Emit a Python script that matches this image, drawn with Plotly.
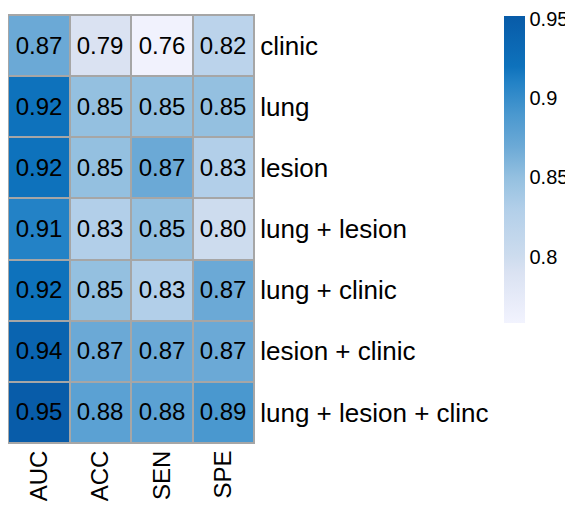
import plotly.graph_objects as go

metrics = ["AUC", "ACC", "SEN", "SPE"]
models = ["clinic", "lung", "lesion", "lung + lesion", "lung + clinic",
          "lesion + clinic", "lung + lesion + clinc"]
auc = [0.87, 0.92, 0.92, 0.91, 0.92, 0.94, 0.95]
acc = [0.79, 0.85, 0.85, 0.83, 0.85, 0.87, 0.88]
sen = [0.76, 0.85, 0.87, 0.85, 0.83, 0.87, 0.88]
spe = [0.82, 0.85, 0.83, 0.80, 0.87, 0.87, 0.89]
cbar_ticks = [0.8, 0.85, 0.9, 0.95]

z = [[auc[i], acc[i], sen[i], spe[i]] for i in range(len(models))]

zmin, zmax = 0.758, 0.952
stops = [(0.758, "#F2F3FE"), (0.79, "#DAE2F2"), (0.80, "#CDDCEE"), (0.83, "#B2CFE9"),
         (0.85, "#94C0E0"), (0.87, "#6BA9D6"), (0.89, "#4A98CF"),
         (0.91, "#2382C6"), (0.92, "#0E72BC"), (0.952, "#085BA8")]
colorscale = [[(v - zmin) / (zmax - zmin), c] for v, c in stops]

FONT = "Liberation Sans, Arial"

# page body has an 8px margin, so the figure is drawn 8px in from top-left
W, H = 565, 497
L, T, B = 0, 7, 62
R = W - L - 246

fig = go.Figure(go.Heatmap(
    z=z, x=metrics, y=models,
    zmin=zmin, zmax=zmax, colorscale=colorscale,
    xgap=2, ygap=2,
    texttemplate="%{z:.2f}",
    textfont=dict(size=24, color="black", family=FONT),
    colorbar=dict(
        x=(496 - L) / 246, xanchor="left", y=1 - 1 / 428, yanchor="top",
        thickness=21, len=307, lenmode="pixels", ypad=0, xpad=0,
        outlinewidth=0, tickvals=cbar_ticks, ticktext=["0.8", "0.85", "0.9", "0.95"],
        ticks="", tickfont=dict(size=20, color="black", family=FONT),
    ),
))

fig.update_layout(
    width=W, height=H,
    margin=dict(l=L, r=R, t=T, b=B, autoexpand=False),
    paper_bgcolor="white", plot_bgcolor="#A6A6A6",
    font=dict(family=FONT, color="black"),
)
fig.update_xaxes(tickangle=-90, tickfont=dict(size=24), showgrid=False, zeroline=False,
                 automargin=False, ticklabelstandoff=-3,
                 ticks="", showline=True, linecolor="#A6A6A6", linewidth=1, mirror=True)
fig.update_yaxes(side="right", autorange="reversed", tickfont=dict(size=26), showgrid=False,
                 automargin=False,
                 zeroline=False, ticks="", showline=True, linecolor="#A6A6A6",
                 linewidth=1, mirror=True)

fig.write_html("out.html")
